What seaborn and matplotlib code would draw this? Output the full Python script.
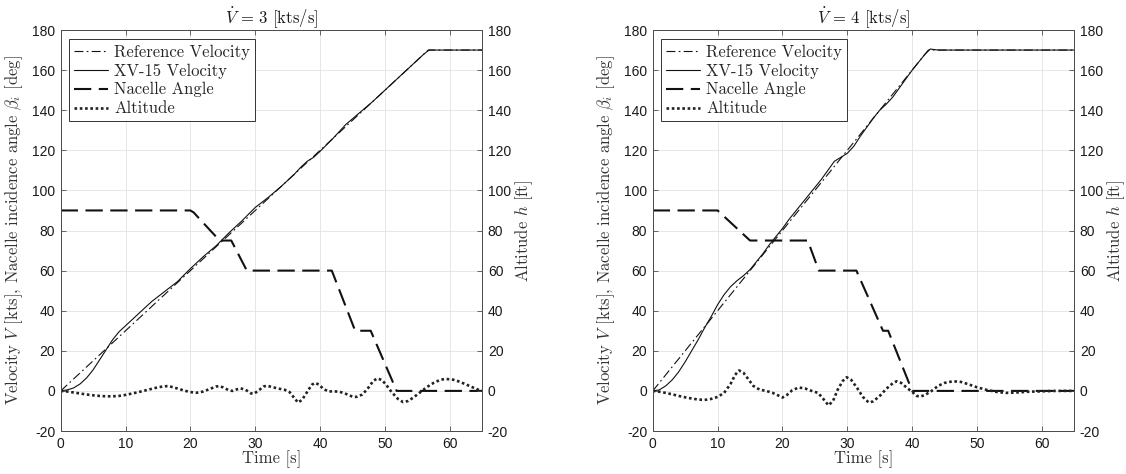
import matplotlib
matplotlib.use("Agg")
import matplotlib.pyplot as plt
import seaborn as sns

# ---------------- data ----------------
titles = [r"$\dot{V}\,=\,3$ [kts/s]", r"$\dot{V}\,=\,4$ [kts/s]"]

# Left panel (3 kts/s)
ref3_t = [0, 56.67, 65]
ref3_v = [0, 170, 170]
xv3_t = [0, 1, 2, 3, 4, 5, 6, 7, 8, 9, 10, 12, 14, 16, 18, 20, 22, 24, 26, 28,
         30, 32, 34, 36, 37, 38, 39, 40, 42, 44, 46, 48, 50, 52, 54, 56, 56.8, 58, 65]
xv3_v = [0, 0.5, 1.5, 3.5, 6.5, 10.5, 15.5, 20.5, 25.5, 29.5, 32.5, 38.5, 44.5, 49.5, 54.5, 61, 67, 72.5, 79, 85,
         91.5, 96.5, 102, 108, 111.5, 114.5, 116.5, 119.5, 126, 133, 138.5, 144, 150, 156, 162, 168, 170, 170, 170]
nac3_t = [0, 20, 20.5, 24.5, 26.3, 28.7, 41.8, 45.4, 47.8, 51.8, 65]
nac3_v = [90, 90, 89, 75, 75, 60, 60, 30, 30, 0, 0]
alt3_t = [0, 1, 2, 3, 4, 5, 6, 7, 8, 9, 10, 11, 12, 13, 14, 15, 16, 16.5, 17, 18, 19, 20, 21, 22, 23, 24, 24.5,
          25, 26, 26.5, 27, 27.7, 28.5, 29.3, 29.8, 30.5, 31.3, 31.8, 32.5, 33.5, 34.5, 35.3, 36, 36.6, 37.2,
          38, 38.7, 39.2, 39.8, 40.5, 41.3, 42, 43, 44, 45, 45.6, 46.5, 47.3, 48.2, 48.8, 49.5, 50.2, 51, 52,
          52.8, 53.6, 54.5, 55.5, 56.5, 57.5, 58.5, 59.3, 60.5, 61.5, 62.5, 63.5, 64.3, 65]
alt3_h = [0, -0.3, -0.8, -1.3, -1.8, -2.2, -2.5, -2.7, -2.7, -2.5, -2.0, -1.3, -0.6, 0.2, 1.0, 1.8, 2.3, 2.4, 2.1,
          1.2, 0.2, -0.6, -0.9, -0.3, 1.0, 2.2, 2.4, 1.8, 0.2, 0.0, 0.6, 1.3, 0.6, -1.2, -1.4, 0.2, 2.2, 2.6, 2.0,
          1.2, 0.6, -0.6, -3.5, -5.8, -4.5, -0.5, 3.0, 4.0, 3.2, 1.0, -0.3, -0.2, -0.4, -1.5, -2.9, -3.0, -1.8,
          1.0, 5.0, 6.2, 5.5, 3.0, -0.5, -4.0, -5.6, -5.0, -3.0, -0.5, 2.0, 4.0, 5.5, 6.0, 5.6, 4.6, 3.2, 1.8,
          0.7, 0.0]

# Right panel (4 kts/s)
ref4_t = [0, 42.5, 65]
ref4_v = [0, 170, 170]
xv4_t = [0, 1, 2, 3, 4, 5, 6, 7, 8, 9, 10, 11, 12, 13, 14, 15, 16, 17, 18, 19, 20, 21, 22, 23, 24, 25, 26,
         27, 28, 29, 30, 31, 32, 33, 34, 35, 36, 37, 38, 39, 40, 41, 42, 42.8, 44, 65]
xv4_v = [0, 0.5, 2.5, 5.5, 9.5, 14.5, 20, 25.5, 31.5, 37, 43, 48, 52, 55, 57.5, 60.5, 64.5, 68.5, 73, 77, 81,
         85.5, 89.5, 93.5, 97.5, 101.5, 105.5, 110, 114.5, 116.5, 118.5, 122, 127, 131.5, 136, 140, 143, 146.5,
         151, 155.5, 160, 164, 168, 170.5, 170, 170]
nac4_t = [0, 10, 15, 23.9, 25.6, 31.4, 35.5, 36.3, 40, 65]
nac4_v = [90, 90, 75, 75, 60, 60, 30, 30, 0, 0]
alt4_t = [0, 1, 2, 3, 4, 5, 6, 7, 8, 9, 10, 11, 12, 12.7, 13.3, 14, 14.7, 15.5, 16.5, 17.5, 18.5, 19.5, 20,
          20.7, 21.5, 22.5, 23.5, 24.5, 25.5, 26.3, 27.1, 27.8, 28.5, 29.3, 29.9, 30.6, 31.5, 32.4, 33.3, 34,
          35, 36, 37, 37.6, 38.3, 39.2, 40, 40.7, 41.3, 42, 43, 44, 45, 46.3, 47.5, 48.5, 50, 51.5, 53, 54.5,
          56, 58, 60, 62, 65]
alt4_h = [0, -0.4, -1.0, -1.7, -2.5, -3.2, -3.8, -4.3, -4.5, -4.0, -3.0, -1.0, 3.5, 8.0, 10.2, 9.0, 6.0, 2.5,
          0.6, 0.0, -1.0, -2.5, -3.3, -2.0, 0.3, 1.7, 1.2, 0.0, -1.0, -4.0, -7.2, -5.0, 0.5, 5.0, 6.8, 5.5, 1.5,
          -3.0, -5.8, -5.2, -2.5, 1.0, 3.8, 4.8, 4.0, 1.5, -0.5, -2.5, -2.8, -2.0, 0.0, 2.5, 4.0, 4.8, 4.5, 3.5,
          1.8, 0.5, -0.5, -1.0, -0.8, -0.4, -0.2, 0.0, 0.0]

panels = [
    (ref3_t, ref3_v, xv3_t, xv3_v, nac3_t, nac3_v, alt3_t, alt3_h),
    (ref4_t, ref4_v, xv4_t, xv4_v, nac4_t, nac4_v, alt4_t, alt4_h),
]
xticks = [0, 10, 20, 30, 40, 50, 60]
yticks = [-20, 0, 20, 40, 60, 80, 100, 120, 140, 160, 180]
legend_labels = ["Reference Velocity", "XV-15 Velocity", "Nacelle Angle", "Altitude"]

# ---------------- style ----------------
sns.set_style("ticks")
plt.rcParams["font.family"] = ["Liberation Sans", "DejaVu Sans"]
plt.rcParams["mathtext.fontset"] = "cm"
plt.rcParams["axes.unicode_minus"] = False
SERIF = ["cmr10", "DejaVu Serif"]
SPINE = "#4d4d4d"
LINE = "#111111"
FS = 12

fig = plt.figure(figsize=(11.26, 4.74), dpi=100)
lefts = [0.0539, 0.5797]
for i, (rt, rv, xt, xv, nt, nv, at, ah) in enumerate(panels):
    ax = fig.add_axes([lefts[i], 0.0907, 0.3744, 0.846])
    ax2 = ax.twinx()

    sns.lineplot(x=rt, y=rv, ax=ax, color=LINE, linewidth=0.8, linestyle=(0, (8, 3, 1.5, 3)),
                 label=legend_labels[0], legend=False, errorbar=None)
    sns.lineplot(x=xt, y=xv, ax=ax, color=LINE, linewidth=0.8, linestyle="-",
                 label=legend_labels[1], legend=False, errorbar=None)
    sns.lineplot(x=nt, y=nv, ax=ax, color=LINE, linewidth=1.5, linestyle=(0, (8.3, 3.6)),
                 label=legend_labels[2], legend=False, errorbar=None)
    sns.lineplot(x=at, y=ah, ax=ax2, color="#222222", linewidth=1.9, linestyle=(0, (1, 1)),
                 label=legend_labels[3], legend=False, errorbar=None)

    for a in (ax, ax2):
        a.set_xlim(0, 65)
        a.set_ylim(-20, 180)
        a.set_yticks(yticks)
        for s in a.spines.values():
            s.set_color(SPINE)
            s.set_linewidth(0.7)
    ax.set_xticks(xticks)
    ax.grid(True, color="#e3e3e3", linewidth=0.6)
    ax.set_axisbelow(True)
    ax.tick_params(axis="both", direction="in", length=3.5, width=0.6, color=SPINE,
                   labelsize=10, labelcolor="#1a1a1a", top=True, right=False, pad=4)
    ax2.tick_params(axis="y", direction="in", length=3.5, width=0.6, color=SPINE,
                    labelsize=10, labelcolor="#1a1a1a", pad=4)

    ax.set_xlabel("Time [s]", family=SERIF, fontsize=FS, color="#333333", labelpad=0)
    ax.set_ylabel(r"Velocity $V$ [kts], Nacelle incidence angle $\beta_i$ [deg]",
                  family=SERIF, fontsize=FS, color="#333333", labelpad=5)
    ax2.set_ylabel(r"Altitude $h$ [ft]", family=SERIF, fontsize=FS, color="#333333", labelpad=1.5)
    ax.set_title(titles[i], family=SERIF, fontsize=FS, color="#1a1a1a", pad=4)

    h1, l1 = ax.get_legend_handles_labels()
    h2, l2 = ax2.get_legend_handles_labels()
    leg = ax2.legend(h1 + h2, l1 + l2, loc="upper left", bbox_to_anchor=(0.0204, 0.977),
                     borderaxespad=0, fancybox=False, framealpha=1, edgecolor="#333333",
                     prop={"family": SERIF, "size": FS}, handlelength=2.0, handletextpad=0.4,
                     labelspacing=0.22, borderpad=0.3)
    leg.get_frame().set_linewidth(0.7)

fig.savefig("out.png", dpi=100)
